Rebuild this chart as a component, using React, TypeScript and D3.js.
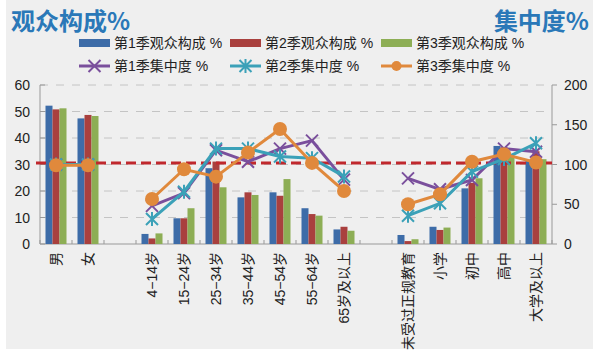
import React from "react";
import * as d3 from "d3";

const categories = ["男", "女", "", "4−14岁", "15−24岁", "25−34岁", "35−44岁", "45−54岁", "55−64岁", "65岁及以上", "", "未受过正规教育", "小学", "初中", "高中", "大学及以上"];
const groups = [[0, 1], [3, 4, 5, 6, 7, 8, 9], [11, 12, 13, 14, 15]];

const comp1: (number | null)[] = [52.2, 47.4, null, 3.8, 9.7, 28.6, 17.6, 19.5, 13.5, 5.5, null, 3.4, 6.5, 21.0, 37.0, 31.5];
const comp2: (number | null)[] = [50.8, 48.7, null, 2.1, 9.7, 31.1, 19.5, 18.2, 11.3, 6.5, null, 1.1, 5.3, 23.1, 36.5, 35.0];
const comp3: (number | null)[] = [51.2, 48.3, null, 4.0, 13.5, 21.4, 18.5, 24.5, 10.7, 5.0, null, 1.8, 6.2, 24.8, 33.0, 32.0];

const conc1: (number | null)[] = [100, 100, null, 48, 64, 118, 103.5, 120, 130, 81, null, 82.6, 68.8, 80.5, 120, 116];
const conc2: (number | null)[] = [100, 100, null, 31.4, 65.8, 120, 120, 110, 108, 85, null, 35.6, 51.2, 91, 107, 126.7];
const conc3: (number | null)[] = [99, 99, null, 56.6, 94, 84.7, 115, 144.6, 102, 66.7, null, 50, 62.5, 103.5, 113, 102.5];

const leftTicks = [0, 10, 20, 30, 40, 50, 60];
const rightTicks = [0, 50, 100, 150, 200];
const refLine = 102;

const barSeries = [
  { name: "第1季观众构成 %", values: comp1, color: "#3d6ca8" },
  { name: "第2季观众构成 %", values: comp2, color: "#a9403e" },
  { name: "第3季观众构成 %", values: comp3, color: "#8dae55" },
];
const lineSeries = [
  { name: "第1季集中度 %", values: conc1, color: "#7a4f9c", marker: "x" },
  { name: "第2季集中度 %", values: conc2, color: "#3ba1b8", marker: "star" },
  { name: "第3季集中度 %", values: conc3, color: "#e0893c", marker: "circle" },
];

const FONT = "'Liberation Sans', 'Noto Sans CJK SC', sans-serif";

function Marker({ type, x, y, color }: { type: string; x: number; y: number; color: string }) {
  if (type === "circle") return <circle cx={x} cy={y} r={7} fill={color} />;
  const s = 6;
  if (type === "x")
    return (
      <path d={`M${x - s},${y - s}L${x + s},${y + s}M${x - s},${y + s}L${x + s},${y - s}`} stroke={color} strokeWidth={2} />
    );
  return (
    <path
      d={`M${x - s},${y - s}L${x + s},${y + s}M${x - s},${y + s}L${x + s},${y - s}M${x},${y - s - 1}L${x},${y + s + 1}`}
      stroke={color}
      strokeWidth={2}
    />
  );
}

export default function App() {
  const W = 600, H = 351;
  const x0 = 40, x1 = 552, yTop = 85, yBot = 244;
  const x = d3.scaleBand<number>().domain(d3.range(categories.length)).range([x0, x1]);
  const yL = d3.scaleLinear().domain([0, 60]).range([yBot, yTop]);
  const yR = d3.scaleLinear().domain([0, 200]).range([yBot, yTop]);
  const bw = 7;
  const line = d3
    .line<number>()
    .x((i) => (x(i) as number) + x.bandwidth() / 2);

  return (
    <div style={{ position: "fixed", left: 0, top: 0 }}>
      <svg width={W} height={H} style={{ display: "block", fontFamily: FONT }}>
        <rect x={0} y={0} width={W} height={H} fill="#ffffff" />
        <rect x={6} y={0} width={587} height={349} fill="#efefef" />
        <text x={11} y={30} fontSize={24} fontWeight="bold" fill="#2a78b8" fontFamily="'Noto Sans CJK SC', sans-serif">观众构成%</text>
        <text x={589} y={30} fontSize={24} fontWeight="bold" fill="#2a78b8" textAnchor="end" fontFamily="'Noto Sans CJK SC', sans-serif">集中度%</text>

        {/* legend */}
        {barSeries.map((s, i) => (
          <g key={s.name} transform={`translate(${79 + i * 151},43)`}>
            <rect x={0} y={-4} width={31} height={8} fill={s.color} />
            <text x={35} y={5} fontSize={14} fill="#222">{s.name}</text>
          </g>
        ))}
        {lineSeries.map((s, i) => (
          <g key={s.name} transform={`translate(${79 + i * 151},66)`}>
            <line x1={0} x2={31} y1={0} y2={0} stroke={s.color} strokeWidth={3} />
            {s.marker === "circle" ? (
              <circle cx={15.5} cy={0} r={5} fill={s.color} />
            ) : (
              <Marker type={s.marker} x={15.5} y={0} color={s.color} />
            )}
            <text x={35} y={5} fontSize={14} fill="#222">{s.name}</text>
          </g>
        ))}

        {/* gridlines */}
        {leftTicks.filter((t) => t > 0).map((t) => (
          <line key={t} x1={x0} x2={x1} y1={yL(t)} y2={yL(t)} stroke="#c4c4c4" strokeWidth={1} strokeDasharray="8,8" />
        ))}

        {/* axes */}
        <line x1={x0} x2={x0} y1={yTop} y2={yBot} stroke="#999" />
        {leftTicks.map((t) => (
          <g key={t}>
            <line x1={x0} x2={x0 + 5} y1={yL(t)} y2={yL(t)} stroke="#999" />
            <text x={30} y={yL(t) + 5} fontSize={14} textAnchor="end" fill="#222">{t}</text>
          </g>
        ))}
        <line x1={x1} x2={x1} y1={yTop} y2={yBot} stroke="#999" />
        {rightTicks.map((t) => (
          <g key={t}>
            <line x1={x1} x2={x1 + 5} y1={yR(t)} y2={yR(t)} stroke="#999" />
            <text x={564} y={yR(t) + 5} fontSize={14} fill="#222">{t}</text>
          </g>
        ))}
        <line x1={x0} x2={x1} y1={yBot} y2={yBot} stroke="#999" />
        {d3.range(categories.length + 1).map((i) => (
          <line key={i} x1={x0 + i * x.step()} x2={x0 + i * x.step()} y1={yBot} y2={yBot - 4} stroke="#999" />
        ))}

        {/* bars */}
        {barSeries.map((s, si) =>
          s.values.map((v, i) =>
            v == null ? null : (
              <rect
                key={`${si}-${i}`}
                x={(x(i) as number) + x.bandwidth() / 2 - 1.5 * bw + si * bw}
                y={yL(v)}
                width={bw}
                height={yBot - yL(v)}
                fill={s.color}
              />
            )
          )
        )}

        {/* reference line */}
        <line x1={36} x2={x1} y1={yR(refLine)} y2={yR(refLine)} stroke="#c0282d" strokeWidth={3} strokeDasharray="10,5" />

        {/* lines */}
        {lineSeries.map((s) => (
          <g key={s.name}>
            {groups.map((g, gi) => (
              <path
                key={gi}
                d={line.y((i) => yR(s.values[i] as number))(g) || ""}
                fill="none"
                stroke={s.color}
                strokeWidth={3}
              />
            ))}
            {s.values.map((v, i) =>
              v == null ? null : (
                <Marker key={i} type={s.marker} x={(x(i) as number) + x.bandwidth() / 2} y={yR(v)} color={s.color} />
              )
            )}
          </g>
        ))}

        {/* category labels */}
        {categories.map((c, i) =>
          c ? (
            <text
              key={i}
              transform={`translate(${(x(i) as number) + x.bandwidth() / 2 + 5},${yBot + 8}) rotate(-90)`}
              textAnchor="end"
              fontSize={14}
              fill="#222"
            >
              {c}
            </text>
          ) : null
        )}
      </svg>
    </div>
  );
}
